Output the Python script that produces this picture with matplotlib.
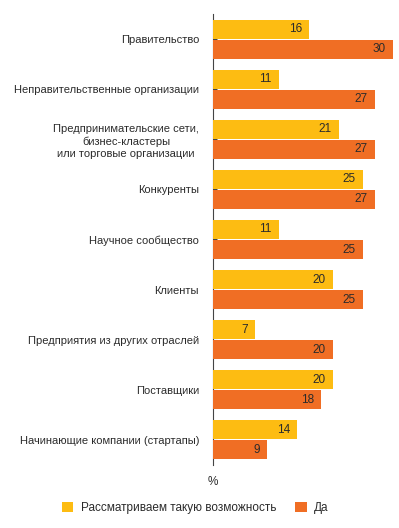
import matplotlib
matplotlib.use("Agg")
import matplotlib.pyplot as plt
from matplotlib.patches import Patch
import numpy as np

plt.rcParams['font.family'] = ['Liberation Sans', 'DejaVu Sans']

categories = [
    "Правительство",
    "Неправительственные организации",
    "Предпринимательские сети,\nбизнес-кластеры\nили торговые организации",
    "Конкуренты",
    "Научное сообщество",
    "Клиенты",
    "Предприятия из других отраслей",
    "Поставщики",
    "Начинающие компании (стартапы)",
]
considering = [16, 11, 21, 25, 11, 20, 7, 20, 14]
yes = [30, 27, 27, 27, 25, 25, 20, 18, 9]
series_names = ["Рассматриваем такую возможность", "Да"]

YELLOW = "#FDBC12"
ORANGE = "#F06E24"
TEXT = "#2b2b2b"

W, H = 399, 528
fig = plt.figure(figsize=(W / 100, H / 100), dpi=100)
ax = fig.add_axes([213 / W, 1 - 465 / H, 186 / W, (465 - 14) / H])

y = np.arange(len(categories))
bh = 0.38
off = 0.2
b1 = ax.barh(y - off, considering, height=bh, color=YELLOW, zorder=3)
b2 = ax.barh(y + off, yes, height=bh, color=ORANGE, zorder=3)

for bars, vals in ((b1, considering), (b2, yes)):
    for bar, v in zip(bars, vals):
        ax.text(v - 1.2, bar.get_y() + bar.get_height() / 2, str(v),
                ha="right", va="center", fontsize=8.5, color=TEXT, zorder=4)

ax.set_xlim(0, 31)
ax.set_ylim(len(categories) - 0.5, -0.5)
ax.set_yticks(y)
ax.set_yticklabels(categories, fontsize=8, color=TEXT, linespacing=1.3)
for lbl in ax.get_yticklabels():
    lbl.set_multialignment("center")
ax.tick_params(axis="y", direction="in", length=3, width=0.8, color="#444444", pad=10)
ax.set_xticks([])
for s in ("top", "right", "bottom"):
    ax.spines[s].set_visible(False)
ax.spines["left"].set_color("#444444")
ax.spines["left"].set_linewidth(0.8)

fig.text(213 / W, 1 - 482 / H, "%", ha="center", va="center", fontsize=8.5, color=TEXT)

handles = [Patch(facecolor=YELLOW), Patch(facecolor=ORANGE)]
fig.legend(handles, series_names, loc="center", bbox_to_anchor=(195 / W, 1 - 508 / H),
           ncol=2, frameon=False, fontsize=8.5, handlelength=1.0, handleheight=1.0,
           handletextpad=0.6, columnspacing=1.6, labelcolor=TEXT)

fig.savefig("out.png", dpi=100)
